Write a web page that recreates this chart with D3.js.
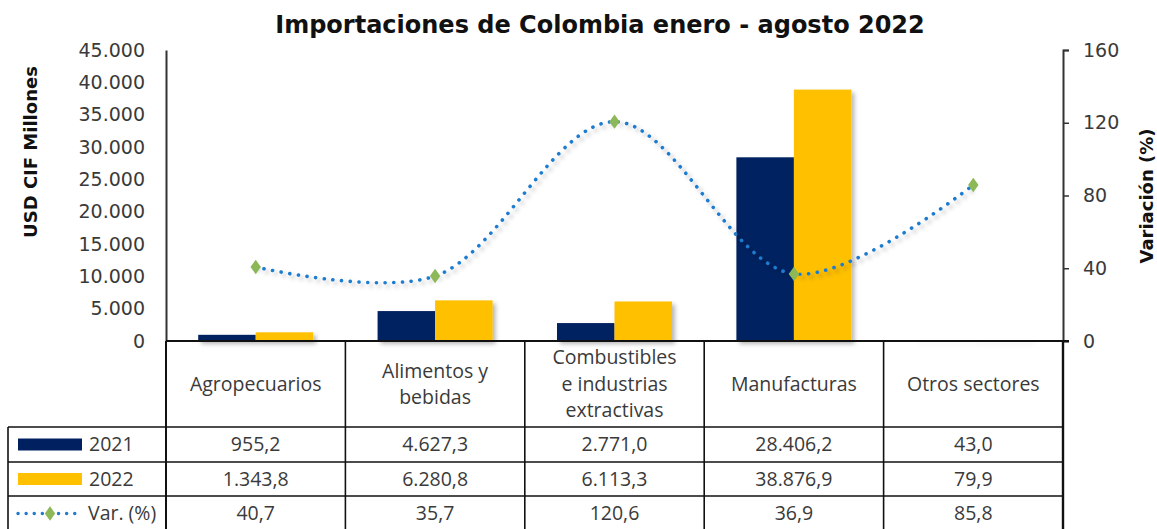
<!DOCTYPE html>
<html><head><meta charset="utf-8">
<script src="https://cdn.jsdelivr.net/npm/d3@7"></script>
<style>
html,body{margin:0;padding:0;background:#fff;}
svg{display:block;}
</style></head>
<body>
<svg id="chart" width="1157" height="529"></svg>
<script>
// ---- data ----
const categories = ["Agropecuarios","Alimentos y bebidas","Combustibles e industrias extractivas","Manufacturas","Otros sectores"];
const categoryLines = [["Agropecuarios"],["Alimentos y","bebidas"],["Combustibles","e industrias","extractivas"],["Manufacturas"],["Otros sectores"]];
const seriesNames = ["2021","2022"];
const values2021 = [955.2, 4627.3, 2771.0, 28406.2, 43.0];
const values2022 = [1343.8, 6280.8, 6113.3, 38876.9, 79.9];
const variation = [40.7, 35.7, 120.6, 36.9, 85.8];
const leftTicks = [0,5000,10000,15000,20000,25000,30000,35000,40000,45000];
const rightTicks = [0,40,80,120,160];
const title = "Importaciones de Colombia enero - agosto 2022";
const leftTitle = "USD CIF Millones";
const rightTitle = "Variación (%)";
const varLabel = "Var. (%)";

const colors = {"2021":"#002060","2022":"#FFC000", line:"#1F7BD0", marker:"#8CB858", text:"#3A3A3A"};

const loc = d3.formatLocale({decimal:",", thousands:".", grouping:[3], currency:["$",""]});
const fmtTick = loc.format(",.0f");
const fmtVal = loc.format(",.1f");

const svg = d3.select("#chart");
const plot = {left:166, right:1063, top:50, bottom:341};
const tableRows = [341, 427, 462, 496, 531];
const tableLeft = 8;

const defs = svg.append("defs");
const f = defs.append("filter").attr("id","sh").attr("x","-20%").attr("y","-20%").attr("width","150%").attr("height","150%");
f.append("feDropShadow").attr("dx",3).attr("dy",3).attr("stdDeviation",2).attr("flood-color","#000").attr("flood-opacity",0.28);

const x = d3.scaleBand().domain(categories).range([plot.left, plot.right]).padding(0);
const x1 = d3.scaleBand().domain(seriesNames).range([0, x.bandwidth()]).paddingInner(0).paddingOuter(0.56);
const yL = d3.scaleLinear().domain([0,45000]).range([plot.bottom, plot.top]);
const yR = d3.scaleLinear().domain([0,160]).range([plot.bottom, plot.top]);

// title
svg.append("text").attr("x",600).attr("y",33).attr("text-anchor","middle")
  .attr("font-family","DejaVu Sans").attr("font-weight","bold").attr("font-size",24)
  .attr("fill","#111").text(title);

// bars
const series = {"2021":values2021, "2022":values2022};
const barG = svg.append("g").attr("filter","url(#sh)");
seriesNames.forEach(s => {
  barG.selectAll(null).data(categories).enter().append("rect")
    .attr("x", c => x(c) + x1(s))
    .attr("width", x1.bandwidth())
    .attr("y", (c,i) => yL(series[s][i]))
    .attr("height", (c,i) => yL(0) - yL(series[s][i]))
    .attr("fill", colors[s]);
});

// left axis
const axL = svg.append("g").attr("transform",`translate(${plot.left},0)`)
  .call(d3.axisLeft(yL).tickValues(leftTicks).tickFormat(fmtTick).tickSize(0).tickPadding(21));
axL.select(".domain").attr("stroke","#333").attr("stroke-width",2);
axL.selectAll("text").attr("font-family","DejaVu Sans").attr("font-size",19).attr("fill",colors.text);

// right axis
const axR = svg.append("g").attr("transform",`translate(${plot.right},0)`)
  .call(d3.axisRight(yR).tickValues(rightTicks).tickSize(6).tickPadding(14));
axR.select(".domain").attr("stroke","#333").attr("stroke-width",2);
axR.selectAll(".tick line").attr("stroke","#333").attr("stroke-width",1.5);
axR.selectAll("text").attr("font-family","DejaVu Sans").attr("font-size",19).attr("fill",colors.text);

// axis titles
svg.append("text").attr("transform","translate(37,152) rotate(-90)").attr("text-anchor","middle")
  .attr("font-family","DejaVu Sans").attr("font-weight","bold").attr("font-size",18).attr("fill","#111").text(leftTitle);
svg.append("text").attr("transform","translate(1153,196) rotate(-90)").attr("text-anchor","middle")
  .attr("font-family","DejaVu Sans").attr("font-weight","bold").attr("font-size",18).attr("fill","#111").text(rightTitle);

// line
const pts = categories.map((c,i) => [x(c) + x.bandwidth()/2, yR(variation[i])]);
svg.append("path").attr("d", d3.line().curve(d3.curveCatmullRom.alpha(0.5))(pts))
  .attr("fill","none").attr("stroke",colors.line).attr("stroke-width",3.6)
  .attr("stroke-linecap","round").attr("stroke-dasharray","0.1 8.6").attr("filter","url(#sh)");
const diamond = d3.symbol().type(d3.symbolDiamond).size(60);
svg.selectAll(null).data(pts).enter().append("path")
  .attr("d", diamond).attr("transform", d => `translate(${d[0]},${d[1]}) scale(1.25,1)`)
  .attr("fill", colors.marker);

// table lines
const tl = svg.append("g").attr("stroke","#111").attr("stroke-width",1.6);
tl.append("line").attr("x1",plot.left).attr("x2",plot.right+6).attr("y1",tableRows[0]).attr("y2",tableRows[0]).attr("stroke-width",2);
[1,2,3,4].forEach(k => tl.append("line").attr("x1",tableLeft).attr("x2",plot.right).attr("y1",tableRows[k]).attr("y2",tableRows[k]));
tl.append("line").attr("x1",tableLeft).attr("x2",tableLeft).attr("y1",tableRows[1]).attr("y2",tableRows[4]);
tl.append("line").attr("x1",plot.left).attr("x2",plot.left).attr("y1",tableRows[0]).attr("y2",tableRows[4]).attr("stroke-width",2);
categories.forEach((c,i) => { if(i>0) tl.append("line").attr("x1",x(c)).attr("x2",x(c)).attr("y1",tableRows[0]).attr("y2",tableRows[4]); });
tl.append("line").attr("x1",plot.right).attr("x2",plot.right).attr("y1",tableRows[0]).attr("y2",tableRows[4]).attr("stroke-width",2.4);

// header labels
const tf = "Open Sans";
const fs = 19.5;
categories.forEach((c,i) => {
  const lines = categoryLines[i];
  const cy = (tableRows[0]+tableRows[1])/2;
  const lh = 26.5;
  lines.forEach((ln,j) => {
    svg.append("text").attr("x", x(c)+x.bandwidth()/2).attr("y", cy + (j-(lines.length-1)/2)*lh)
      .attr("dy","0.35em").attr("text-anchor","middle").attr("font-family",tf).attr("font-size",fs)
      .attr("fill",colors.text).text(ln);
  });
});

// data rows
const rows = [values2021, values2022, variation];
rows.forEach((arr,r) => {
  const cy = (tableRows[r+1]+tableRows[r+2])/2;
  categories.forEach((c,i) => {
    svg.append("text").attr("x", x(c)+x.bandwidth()/2).attr("y", cy).attr("dy","0.35em")
      .attr("text-anchor","middle").attr("font-family",tf).attr("font-size",fs).attr("fill",colors.text)
      .text(fmtVal(arr[i]));
  });
});

// legend cells
seriesNames.forEach((s,r) => {
  const cy = (tableRows[r+1]+tableRows[r+2])/2;
  svg.append("rect").attr("x",18).attr("y",cy-6).attr("width",64).attr("height",12).attr("fill",colors[s]);
  svg.append("text").attr("x",89).attr("y",cy).attr("dy","0.35em").attr("font-family",tf).attr("font-size",fs)
    .attr("fill",colors.text).text(s);
});
{
  const cy = (tableRows[3]+tableRows[4])/2;
  svg.append("line").attr("x1",18).attr("x2",82).attr("y1",cy).attr("y2",cy)
    .attr("stroke",colors.line).attr("stroke-width",3.4).attr("stroke-linecap","round").attr("stroke-dasharray","0.1 8");
  svg.append("path").attr("d",diamond).attr("transform",`translate(50,${cy}) scale(1.25,1)`).attr("fill",colors.marker);
  svg.append("text").attr("x",88).attr("y",cy).attr("dy","0.35em").attr("font-family",tf).attr("font-size",fs)
    .attr("fill",colors.text).text(varLabel);
}
</script>
</body></html>
